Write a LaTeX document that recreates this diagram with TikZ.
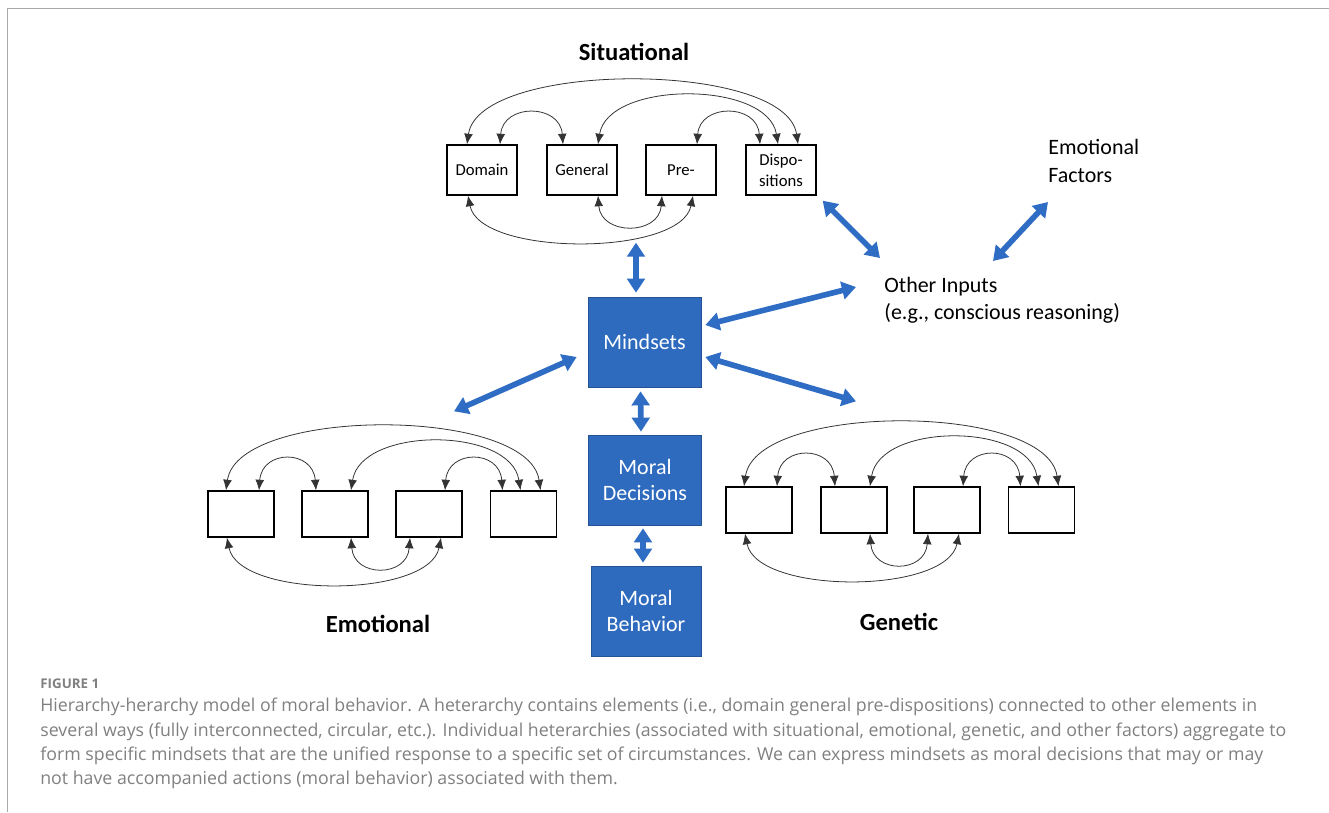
\documentclass[tikz,border=0pt]{standalone}
\usepackage{fontspec}
\setmainfont{Carlito}
\newfontfamily\capfont{Open Sans}
\usetikzlibrary{calc, arrows.meta, positioning}
\definecolor{boxblue}{RGB}{46,107,190}
\definecolor{edgeblue}{RGB}{36,82,148}
\definecolor{arrowblue}{RGB}{47,108,196}
\definecolor{capgray}{RGB}{128,128,128}
\definecolor{framegray}{RGB}{170,170,170}
\tikzset{>=latex}
\tikzset{
  elem/.style={draw, line width=0.8pt, fill=white, minimum width=1.4cm, minimum height=1.0cm, inner sep=1pt, align=center, font=\fontsize{9.5}{12}\selectfont},
  elemsmall/.style={elem, minimum width=1.32cm, minimum height=0.92cm},
  bluebox/.style={draw=edgeblue, fill=boxblue, text=white, minimum width=2.26cm, minimum height=1.8cm, align=center, font=\fontsize{12.5}{15}\selectfont},
  link/.style={black!80, line width=0.45pt, {Latex[length=6pt,width=5pt]}-{Latex[length=6pt,width=5pt]}},
  biarrow/.style={arrowblue, line width=3.2pt, {Triangle[length=8pt,width=10pt]}-{Triangle[length=8pt,width=10pt]}},
  grouptitle/.style={inner sep=0pt, font=\fontsize{14}{17}\selectfont\bfseries},
  inputtext/.style={inner sep=0pt, align=left, font=\fontsize{12.5}{15.5}\selectfont},
  captext/.style={inner sep=0pt, anchor=west, text=capgray, font=\capfont\fontsize{10.1}{12}\selectfont}
}

\begin{document}
\begin{tikzpicture}[x=0.02cm, y=-0.02cm]
\useasboundingbox (0,0) rectangle (1329,812);
\draw[framegray, line width=1.1pt] (7.5,812) -- (7.5,8.5) -- (1329,8.5);

% heterarchies
\node[elem] (sit1) at (482,170) {Domain};
\node[elem] (sit2) at (582,170) {General};
\node[elem] (sit3) at (681,170) {Pre-};
\node[elem] (sit4) at (781,170) {Dispo-\\sitions};
\node[elemsmall] (emo1) at (241,514) {};
\node[elemsmall] (emo2) at (335,514) {};
\node[elemsmall] (emo3) at (429,514) {};
\node[elemsmall] (emo4) at (523.5,514) {};
\node[elemsmall] (gen1) at (759,510) {};
\node[elemsmall] (gen2) at (854,510) {};
\node[elemsmall] (gen3) at (947,510) {};
\node[elemsmall] (gen4) at (1041.5,510) {};

\foreach \h in {sit,emo,gen}{
  \draw[link] ($(\h1.north)+(-15,0)$) .. controls +(12,-84) and +(-12,-84) .. ($(\h4.north)+(17,0)$);
  \draw[link] ($(\h1.north)+(18,0)$) .. controls +(3,-41) and +(-3,-41) .. ($(\h2.north)+(-19,0)$);
  \draw[link] ($(\h2.north)+(16,0)$) .. controls +(10,-64) and +(-10,-64) .. ($(\h4.north)+(-3,0)$);
  \draw[link] ($(\h3.north)+(16,0)$) .. controls +(3,-41) and +(-3,-41) .. ($(\h4.north)+(-21,0)$);
  \draw[link] ($(\h1.south)+(-14,0)$) .. controls +(12,61) and +(-12,61) .. ($(\h3.south)+(12,0)$);
  \draw[link] ($(\h2.south)+(16,0)$) .. controls +(3,40) and +(-3,40) .. ($(\h3.south)+(-19,0)$);
}

\node[grouptitle] (sittitle) at (634,52) {Situational};
\node[grouptitle] (emotitle) at (378,624) {Emotional};
\node[grouptitle] (gentitle) at (899,622) {Genetic};

% mindsets column
\node[bluebox] (mind) at (644.5,342) {Mindsets};
\node[bluebox] (dec) at (645,480) {Moral\\Decisions};
\node[bluebox, minimum width=2.2cm] (beh) at (646,611) {Moral\\Behavior};

\node[inputtext, anchor=west] (other) at (884,300) {Other Inputs\\(e.g., conscious reasoning)};
\node[inputtext, anchor=west] (emofac) at (1048,161) {Emotional\\Factors};

\draw[biarrow] ($(mind.north)+(-8.5,-4)$) -- ($(mind.north)+(-8.5,-54)$);
\draw[biarrow] ($(mind.south)+(-4,4)$) -- ($(dec.north)+(-4,-3)$);
\draw[biarrow] ($(dec.south)+(-2,3)$) -- ($(beh.north)+(-3,-3)$);
\draw[biarrow] ($(mind.east)+(4,-17)$) -- ($(other.west)+(-28,-13)$);
\draw[biarrow] ($(mind.east)+(4,15)$) -- ($(gen1.north)+(97,-85)$);
\draw[biarrow] ($(mind.west)+(-11,15)$) -- ($(emo1.north)+(213,-79)$);
\draw[biarrow] ($(sit4.south east)+(6,5)$) -- ($(other.west)+(-4,-42)$);
\draw[biarrow] ($(other.west)+(109,-39)$) -- ($(emofac.west)+(0,41)$);

% caption
\node[captext, font=\capfont\bfseries\fontsize{7.6}{9}\selectfont] (figno) at (40,684) {FIGURE 1};
\node[captext] (cap1) at (40,707) {Hierarchy-herarchy model of moral behavior. A heterarchy contains elements (i.e., domain general pre-dispositions) connected to other elements in};
\node[captext] (cap2) at (40,732) {several ways (fully interconnected, circular, etc.). Individual heterarchies (associated with situational, emotional, genetic, and other factors) aggregate to};
\node[captext] (cap3) at (40,756) {form specific mindsets that are the unified response to a specific set of circumstances. We can express mindsets as moral decisions that may or may};
\node[captext] (cap4) at (40,780) {not have accompanied actions (moral behavior) associated with them.};
\end{tikzpicture}
\end{document}
